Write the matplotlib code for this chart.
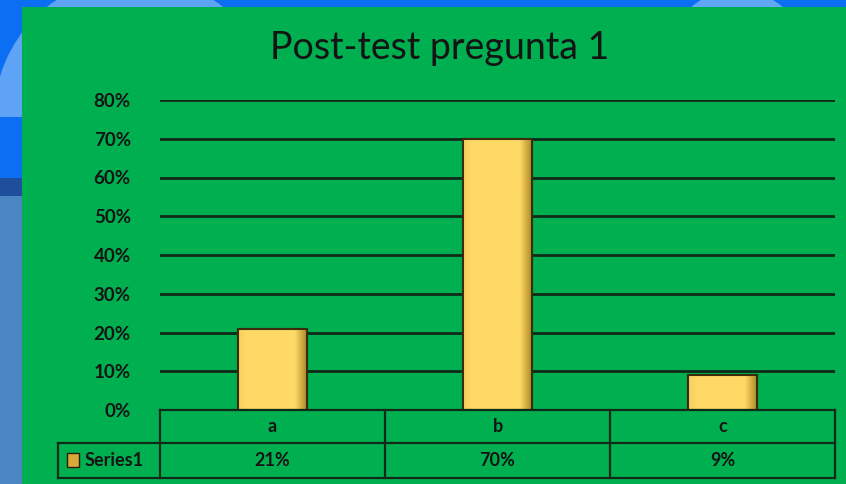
import numpy as np
import matplotlib
matplotlib.use("Agg")
import matplotlib.pyplot as plt
from matplotlib.patches import Rectangle, Ellipse
from matplotlib.colors import LinearSegmentedColormap

# ---- data ----
categories = ["a", "b", "c"]
values = [0.21, 0.70, 0.09]
value_labels = ["21%", "70%", "9%"]
series_name = "Series1"
title = "Post-test pregunta 1"
yticks = [0.0, 0.1, 0.2, 0.3, 0.4, 0.5, 0.6, 0.7, 0.8]

W, H = 846, 484
BLUE = "#0b6ef3"
GREEN = "#00b050"
DARK = "#0f2a18"
TXT = "#141414"
BAR = "#ffd966"

plt.rcParams['font.family'] = ['Lato', 'DejaVu Sans']

fig = plt.figure(figsize=(W / 100, H / 100), dpi=100, facecolor=BLUE)

def fx(px):
    return px / W

def fy(py):
    return 1 - py / H

def circ(cx, cy, r, color, z):
    return Ellipse((fx(cx), fy(cy)), 2 * r / W, 2 * r / H, transform=fig.transFigure,
                   facecolor=color, edgecolor="none", zorder=z)

# decorative background of the screenshot (left strip and top strip)
fig.patches.append(circ(135, 117, 141, "#5fa3f6", 0))
fig.patches.append(Rectangle((0, fy(178)), fx(22), fy(117) - fy(178), transform=fig.transFigure,
                             facecolor=BLUE, edgecolor="none", zorder=0.2))
fig.patches.append(Rectangle((0, fy(196)), fx(22), fy(178) - fy(196), transform=fig.transFigure,
                             facecolor="#1f4f9c", edgecolor="none", zorder=0.2))
fig.patches.append(Rectangle((0, 0), fx(22), fy(196), transform=fig.transFigure,
                             facecolor="#4a86c2", edgecolor="none", zorder=0.2))
fig.patches.append(circ(737, 60, 70, "#62a6f7", 0))
# green chart area
fig.patches.append(Rectangle((fx(22), 0), fx(846 - 22), fy(7), transform=fig.transFigure,
                             facecolor=GREEN, edgecolor="none", zorder=1))

# plot area
x0, x1 = 160, 835
y_top, y_bot = 100, 410
ax = fig.add_axes([fx(x0), fy(y_bot), fx(x1 - x0), fy(y_top) - fy(y_bot)])
ax.set_facecolor("none")
ax.set_zorder(2)
for s in ax.spines.values():
    s.set_visible(False)
ax.set_xticks([])
ax.set_yticks(yticks)
ax.set_yticklabels([f"{int(round(t * 100))}%" for t in yticks])
ax.tick_params(axis="y", length=0, pad=21, labelsize=13.5, labelcolor=TXT)
for lab in ax.get_yticklabels():
    lab.set_fontweight("bold")
ax.yaxis.grid(True, color=DARK, linewidth=2.0)
ax.set_axisbelow(True)

xpos = np.arange(len(categories))
bars = ax.bar(xpos, values, width=0.31, color=BAR, edgecolor="#3a2c08",
              linewidth=1.5, zorder=3)
cmap = LinearSegmentedColormap.from_list("sh", [(0, "#f7d060"), (0.12, "#ffd966"),
                                                (0.82, "#ffd966"), (1.0, "#a88724")])
for b in bars:
    x, y = b.get_x(), b.get_y()
    w, h = b.get_width(), b.get_height()
    im = ax.imshow(np.linspace(0, 1, 64)[None, :], cmap=cmap, aspect="auto",
                   extent=(x, x + w, y, y + h), zorder=3.5, interpolation="bilinear")
    im.set_clip_path(b)
    ax.add_patch(Rectangle((x, y), w, h, facecolor="none", edgecolor="#3a2c08",
                           linewidth=1.5, zorder=4))
ax.set_xlim(-0.5, len(categories) - 0.5)
ax.set_ylim(0, 0.8)

# title
fig.text(fx(440), fy(48), title, ha="center", va="center", fontsize=27,
         color=TXT, zorder=5)

# data table
r0, r1, r2 = 410, 443, 478
leg_left = 58
lw = 1.6
def hline(xa, xb, py):
    fig.add_artist(plt.Line2D([fx(xa), fx(xb)], [fy(py), fy(py)], color=DARK, lw=lw,
                              transform=fig.transFigure, zorder=5))
def vline(px, ya, yb):
    fig.add_artist(plt.Line2D([fx(px), fx(px)], [fy(ya), fy(yb)], color=DARK, lw=lw,
                              transform=fig.transFigure, zorder=5))

hline(x0, x1, r0)
hline(leg_left, x1, r1)
hline(leg_left, x1, r2)
vline(leg_left, r1, r2)
n = len(categories)
cw = (x1 - x0) / n
for i in range(n + 1):
    vline(x0 + i * cw, r0, r2)
for i, (c, v) in enumerate(zip(categories, value_labels)):
    cx = x0 + (i + 0.5) * cw
    fig.text(fx(cx), fy((r0 + r1) / 2), c, ha="center", va="center", fontsize=13,
             fontweight="bold", color=TXT, zorder=6)
    fig.text(fx(cx), fy((r1 + r2) / 2), v, ha="center", va="center", fontsize=13,
             fontweight="bold", color=TXT, zorder=6)
# legend key
fig.patches.append(Rectangle((fx(67), fy(467)), fx(12), fy(453) - fy(467),
                             transform=fig.transFigure, facecolor="#d9a83a",
                             edgecolor="#2a2000", lw=1, zorder=6))
fig.text(fx(85), fy((r1 + r2) / 2), series_name, ha="left", va="center", fontsize=13,
         fontweight="bold", color=TXT, zorder=6)

fig.savefig("out.png", dpi=100, facecolor=BLUE)
